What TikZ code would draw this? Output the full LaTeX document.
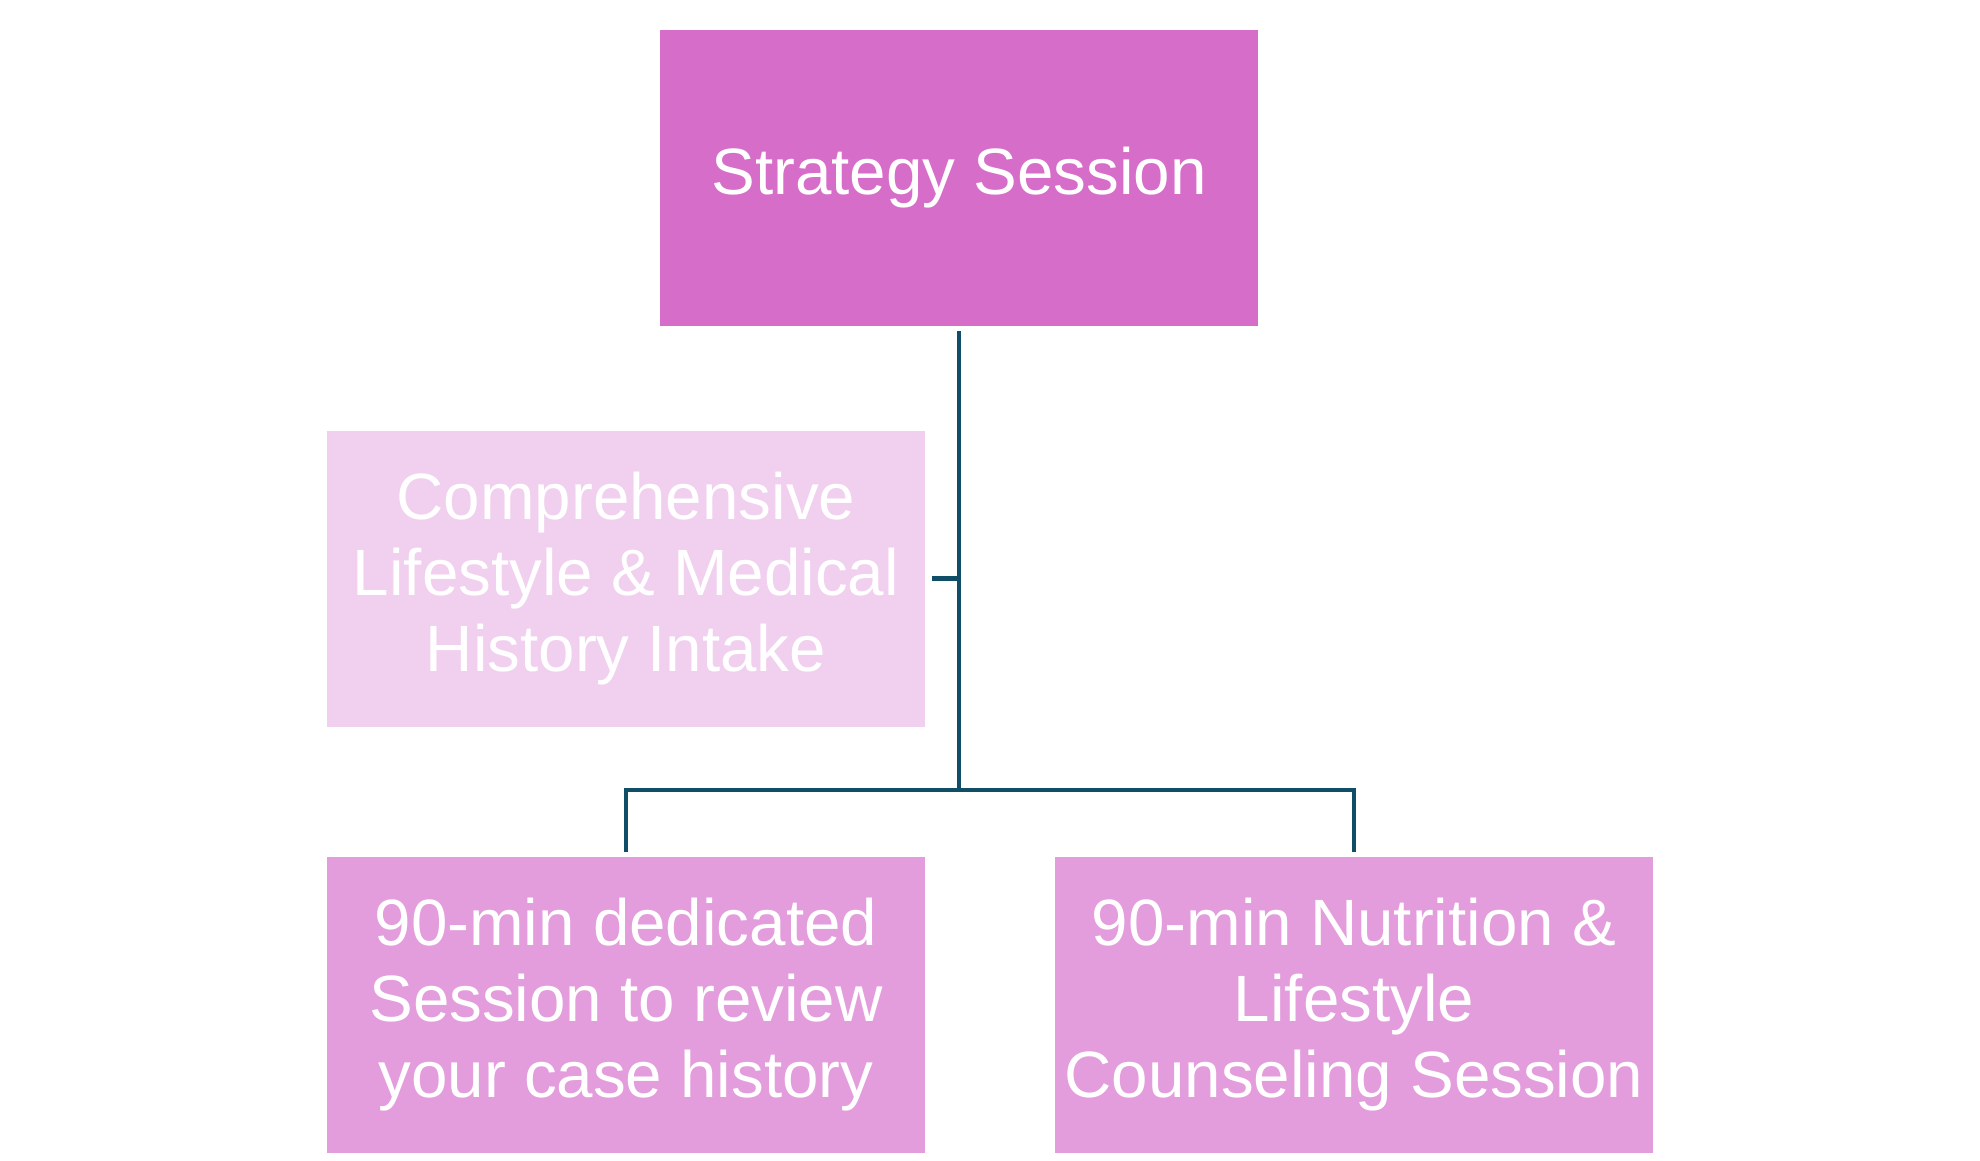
\documentclass[tikz,border=0pt]{standalone}
\usepackage{fontspec}
\setmainfont{Liberation Sans}
\definecolor{topc}{RGB}{214,109,200}
\definecolor{intakec}{RGB}{241,207,238}
\definecolor{subc}{RGB}{227,157,220}
\definecolor{linec}{RGB}{16,78,104}
\tikzset{
  box/.style={rectangle, minimum width=598pt, minimum height=296pt, inner sep=0pt,
    text=white, align=center, font=\fontsize{65.5}{76}\selectfont},
  conn/.style={draw=linec, line width=4.6pt}
}
\begin{document}
\begin{tikzpicture}[x=1pt,y=-1pt]
\useasboundingbox[fill=white] (0,0) rectangle (1980,1160);
\node[box, fill=topc] (top) at (959,178) {Strategy Session};
\node[box, fill=intakec] (intake) at (626,578.5) {Comprehensive\\Lifestyle \& Medical\\History Intake};
\node[box, fill=subc] (bl) at (626,1005) {90-min dedicated\\Session to review\\your case history};
\node[box, fill=subc] (br) at (1354,1005) {90-min Nutrition \&\\Lifestyle\\Counseling Session};
\coordinate (junction) at (959,790);
\draw[conn] ([yshift=-5pt]top.south) -- (junction);
\draw[conn] ([xshift=7pt]intake.east) -- (intake.east -| junction);
\draw[conn] ([yshift=5pt]bl.north) -- (bl.north |- junction) -- (br.north |- junction) -- ([yshift=5pt]br.north);
\end{tikzpicture}
\end{document}
